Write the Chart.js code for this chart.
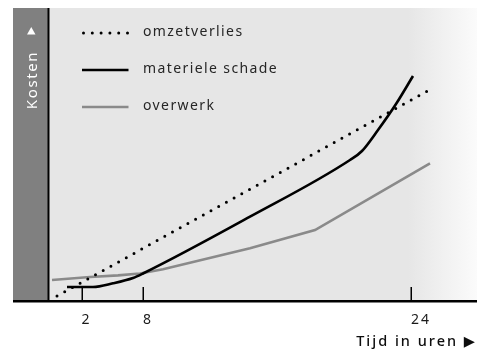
<!DOCTYPE html>
<html>
<head>
<meta charset="utf-8">
<script src="https://cdn.jsdelivr.net/npm/chart.js@4/dist/chart.umd.min.js"></script>
<style>
  html, body { margin: 0; padding: 0; background: #ffffff; }
  #wrap { width: 477px; height: 354px; position: relative; }
</style>
</head>
<body>
<div id="wrap"><canvas id="c" width="477" height="354"></canvas></div>
<script>
// ---- data (x in position units along the time axis, y in cost units) ----
const seriesNames = ['omzetverlies', 'materiele schade', 'overwerk'];

const omzetverliesX = [9, 383];
const omzetverliesY = [5, 212];

const schadeX = [19, 45, 65, 85, 95, 202, 302, 314, 330, 348, 365];
const schadeY = [14, 14, 17.7, 23, 27.5, 84.3, 141, 150, 171, 197, 225];

const overwerkX = [4, 42, 70, 92, 115, 202, 267, 382];
const overwerkY = [21, 24, 25.6, 27.5, 31.8, 52.7, 71, 137.7];

const xTickPositions = [33.5, 95, 363];
const xTickLabels = ['2', '8', '24'];

const xAxisTitle = 'Tijd in uren \u25B6';
const yAxisTitle = 'Kosten';

const xMax = 429;
const yMax = 293;

const toPts = (xs, ys) => xs.map((x, i) => ({ x: x, y: ys[i] }));

const FONT = "'Noto Sans', 'DejaVu Sans', sans-serif";
const DOT_DASH = [0, 8.8];

const bgPlugin = {
  id: 'bg',
  beforeDraw(chart) {
    const ctx = chart.ctx, a = chart.chartArea;
    ctx.save();
    ctx.fillStyle = '#808080';
    ctx.fillRect(13, a.top, a.left - 13, a.bottom - a.top);
    const g = ctx.createLinearGradient(a.left, 0, a.right, 0);
    g.addColorStop(0, '#e6e6e6');
    g.addColorStop(0.84, '#e6e6e6');
    g.addColorStop(1, '#fbfbfb');
    ctx.fillStyle = g;
    ctx.fillRect(a.left, a.top, a.right - a.left, a.bottom - a.top);
    ctx.restore();
    ctx.letterSpacing = '2px';
  },
  afterDatasetsDraw(chart) {
    const ctx = chart.ctx, a = chart.chartArea;
    const xs = chart.scales.x;
    ctx.save();
    ctx.letterSpacing = '0px';
    ctx.strokeStyle = '#000';
    // tick marks inside plot
    ctx.lineWidth = 1.5;
    xTickPositions.forEach(v => {
      const px = Math.round(xs.getPixelForValue(v)) + 0.25;
      ctx.beginPath();
      ctx.moveTo(px, a.bottom - 14);
      ctx.lineTo(px, a.bottom);
      ctx.stroke();
    });
    // axes
    ctx.lineWidth = 2;
    ctx.beginPath();
    ctx.moveTo(a.left + 0.5, a.top);
    ctx.lineTo(a.left + 0.5, a.bottom);
    ctx.stroke();
    ctx.lineWidth = 2.6;
    ctx.beginPath();
    ctx.moveTo(13, a.bottom + 0.3);
    ctx.lineTo(chart.width, a.bottom + 0.3);
    ctx.stroke();

    // legend
    const ds = chart.data.datasets;
    const rows = [33, 70, 107];
    ds.forEach((d, i) => {
      const y = rows[i];
      ctx.save();
      ctx.strokeStyle = d.borderColor;
      ctx.lineWidth = d.borderWidth;
      ctx.lineCap = d.borderCapStyle || 'butt';
      ctx.setLineDash(d.borderDash || []);
      ctx.beginPath();
      ctx.moveTo(d.borderDash ? 83.5 : 82, y);
      ctx.lineTo(128.5, y);
      ctx.stroke();
      ctx.restore();
      ctx.fillStyle = '#262626';
      ctx.font = '14px ' + FONT;
      ctx.letterSpacing = '1.4px';
      ctx.textAlign = 'left';
      ctx.textBaseline = 'alphabetic';
      ctx.fillText(d.label, 143, y + 2.5);
    });

    // y-axis title in the dark band
    ctx.fillStyle = '#ffffff';
    ctx.save();
    ctx.translate(36.5, 80);
    ctx.rotate(-Math.PI / 2);
    ctx.font = '15px ' + FONT;
    ctx.letterSpacing = '1.6px';
    ctx.textAlign = 'center';
    ctx.textBaseline = 'alphabetic';
    ctx.fillText(yAxisTitle, 0, 0);
    ctx.restore();
    // up arrow above the y title
    ctx.beginPath();
    ctx.moveTo(27, 34.5);
    ctx.lineTo(35.5, 34.5);
    ctx.lineTo(31.25, 27);
    ctx.closePath();
    ctx.fill();
    ctx.restore();
    ctx.letterSpacing = '2px';
  },
  afterDraw(chart) {
    chart.ctx.letterSpacing = '0px';
  }
};

new Chart(document.getElementById('c'), {
  type: 'line',
  data: {
    datasets: [
      {
        label: seriesNames[0],
        data: toPts(omzetverliesX, omzetverliesY),
        borderColor: '#000000',
        borderWidth: 3,
        borderDash: DOT_DASH,
        borderCapStyle: 'round',
        pointRadius: 0,
        tension: 0
      },
      {
        label: seriesNames[1],
        data: toPts(schadeX, schadeY),
        borderColor: '#000000',
        borderWidth: 2.6,
        pointRadius: 0,
        cubicInterpolationMode: 'monotone'
      },
      {
        label: seriesNames[2],
        data: toPts(overwerkX, overwerkY),
        borderColor: '#8a8a8a',
        borderWidth: 2.6,
        pointRadius: 0,
        tension: 0
      }
    ]
  },
  options: {
    responsive: false,
    animation: false,
    devicePixelRatio: 1,
    layout: { padding: { left: 48, top: 8, right: 0, bottom: 0 } },
    plugins: { legend: { display: false }, tooltip: { enabled: false } },
    scales: {
      y: { type: 'linear', display: false, min: 0, max: yMax },
      x: {
        type: 'linear',
        min: 0,
        max: xMax,
        grid: { display: false, drawTicks: false },
        border: { display: false },
        afterBuildTicks(scale) {
          scale.ticks = xTickPositions.map(v => ({ value: v }));
        },
        afterFit(scale) { scale.height = 53; },
        ticks: {
          autoSkip: false,
          maxRotation: 0,
          align: 'start',
          padding: 11,
          color: '#1a1a1a',
          font: { family: FONT, size: 14 },
          callback: (v, i) => xTickLabels[i]
        },
        title: {
          display: true,
          text: xAxisTitle,
          align: 'end',
          color: '#0d0d0d',
          font: { family: FONT, size: 14.5, weight: '500' },
          padding: { top: 0, bottom: 3 }
        }
      }
    }
  },
  plugins: [bgPlugin]
});
</script>
</body>
</html>
